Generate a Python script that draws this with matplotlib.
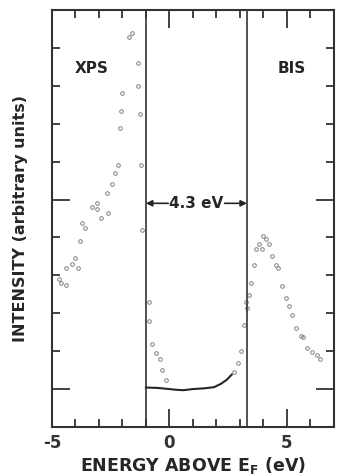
import matplotlib
matplotlib.use('Agg')
import matplotlib.pyplot as plt
from matplotlib.ticker import MultipleLocator, FixedLocator

# XPS points (valence band, left panel)
xps_x = [-4.7, -4.6, -4.4, -4.4, -4.15, -4.0, -3.9, -3.8, -3.7, -3.6, -3.3, -3.1, -3.1,
         -2.9, -2.67, -2.6, -2.46, -2.33, -2.2, -2.1, -2.05, -2.0, -1.7, -1.57, -1.35,
         -1.35, -1.27, -1.2, -1.15]
xps_y = [3.9, 3.8, 3.75, 4.2, 4.3, 4.45, 4.2, 4.9, 5.37, 5.24, 5.8, 5.9, 5.76,
         5.5, 6.16, 5.65, 6.4, 6.7, 6.9, 7.9, 8.34, 8.8, 10.3, 10.4, 9.6,
         9.0, 8.26, 6.9, 5.2]

# BIS points (conduction band, right panel)
bis_x = [3.3, 3.4, 3.47, 3.6, 3.7, 3.8, 3.94, 4.0, 4.1, 4.24, 4.36, 4.53, 4.6, 4.8, 4.96,
         5.1, 5.2, 5.4, 5.6, 5.7, 5.85, 6.05, 6.27, 6.4]
bis_y = [3.13, 3.47, 3.8, 4.26, 4.7, 4.84, 4.7, 5.05, 4.97, 4.84, 4.5, 4.26, 4.2, 3.73, 3.4,
         3.2, 2.95, 2.6, 2.4, 2.37, 2.08, 1.97, 1.9, 1.8]

# gap region: edge points and the flat background line
gap_x = [-0.85, -0.85, -0.72, -0.55, -0.42, -0.3, -0.13, 2.75, 2.9, 3.05, 3.18, 3.26]
gap_y = [3.3, 2.8, 2.2, 1.95, 1.8, 1.5, 1.24, 1.45, 1.7, 2.0, 2.7, 3.3]
base_x = [-1.0, -0.5, 0.0, 0.3, 0.6, 1.0, 1.5, 1.9, 2.2, 2.45, 2.65]
base_y = [1.04, 1.03, 1.0, 0.98, 0.97, 1.0, 1.02, 1.05, 1.14, 1.25, 1.38]

gap_lo, gap_hi = -1.0, 3.3

fig = plt.figure(figsize=(3.39, 4.76), dpi=100)
ax = fig.add_axes([0.153, 0.103, 0.832, 0.876])

mk = dict(ls='none', marker='o', ms=2.6, mfc='none', mec='0.5', mew=0.7)
ax.plot(xps_x, xps_y, **mk)
ax.plot(bis_x, bis_y, **mk)
ax.plot(gap_x, gap_y, **mk)
ax.plot(base_x, base_y, color='0.15', lw=1.5)

ax.axvline(gap_lo, color='0.2', lw=1.2)
ax.axvline(gap_hi, color='0.2', lw=1.2)

ax.set_xlim(-5, 7)
ax.set_ylim(0, 11)

ax.xaxis.set_major_locator(FixedLocator([-5, 0, 5]))
ax.xaxis.set_minor_locator(MultipleLocator(1))
ax.yaxis.set_major_locator(FixedLocator([1, 6]))
ax.yaxis.set_minor_locator(FixedLocator([2, 3, 4, 5, 7, 8, 9, 10]))
ax.set_yticklabels([])
ax.tick_params(which='both', direction='in', top=True, right=True, width=1.3, color='0.2')
ax.tick_params(which='major', length=13)
ax.tick_params(which='minor', length=6)
ax.tick_params(axis='x', labelsize=12, pad=5)
ax.set_xticklabels(['-5', '0', '5'], fontweight='bold', color='0.2')
for s in ax.spines.values():
    s.set_linewidth(1.5)
    s.set_color('0.2')

ax.text(-3.3, 9.45, 'XPS', fontsize=11, fontweight='bold', ha='center', va='center', color='0.15')
ax.text(5.2, 9.45, 'BIS', fontsize=11, fontweight='bold', ha='center', va='center', color='0.15')
ax.text(1.15, 5.9, '4.3 eV', fontsize=11, fontweight='bold', ha='center', va='center', color='0.15')
arr = dict(arrowstyle='-|>', color='0.15', lw=1.2, mutation_scale=9, shrinkA=0, shrinkB=0)
ax.annotate('', xy=(gap_lo, 5.9), xytext=(-0.05, 5.9), arrowprops=arr)
ax.annotate('', xy=(gap_hi, 5.9), xytext=(2.35, 5.9), arrowprops=arr)

ax.set_xlabel(r'ENERGY ABOVE E$_{\mathbf{F}}$ (eV)', fontsize=12.5, fontweight='bold', color='0.15',
              labelpad=2)
ax.set_ylabel('INTENSITY (arbitrary units)', fontsize=11.5, fontweight='bold', color='0.15',
              labelpad=14)

fig.savefig('out.png', dpi=100)
